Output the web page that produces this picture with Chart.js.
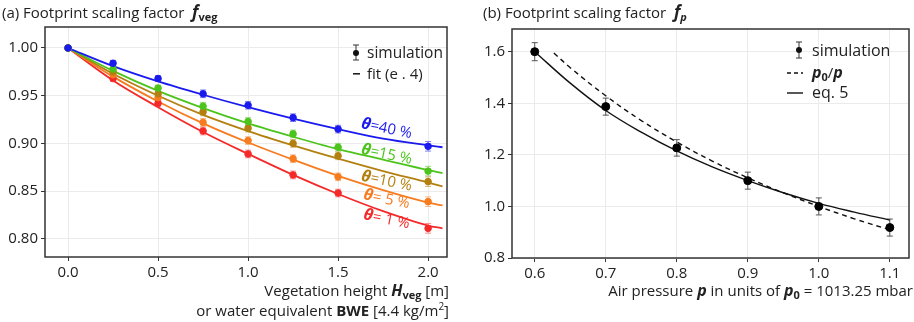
<!DOCTYPE html>
<html>
<head>
<meta charset="utf-8">
<title>Footprint scaling factors</title>
<script src="https://cdn.jsdelivr.net/npm/chart.js@4.4.0/dist/chart.umd.min.js"></script>
<style>
  body { margin: 0; background: #fff; }
  .panel { position: absolute; top: 0; height: 322px; }
  #left { left: 0; width: 455px; }
  #right { left: 455px; width: 459px; }
</style>
</head>
<body>
<div class="panel" id="left"><canvas id="vegChart"></canvas></div>
<div class="panel" id="right"><canvas id="presChart"></canvas></div>
<script>
// (a) vegetation height -> f_veg, one series per soil moisture theta
var heights = [0, 0.25, 0.5, 0.75, 1.0, 1.25, 1.5, 2.0];
var sim40 = [1.000, 0.984, 0.968, 0.952, 0.940, 0.927, 0.915, 0.897];
var sim15 = [1.000, 0.978, 0.958, 0.939, 0.923, 0.910, 0.896, 0.871];
var sim10 = [1.000, 0.975, 0.952, 0.933, 0.916, 0.900, 0.887, 0.860];
var sim5  = [1.000, 0.972, 0.948, 0.922, 0.903, 0.884, 0.865, 0.839];
var sim1  = [1.000, 0.968, 0.942, 0.913, 0.889, 0.867, 0.848, 0.811];
var vegErr = [0.001, 0.003, 0.003, 0.004, 0.004, 0.004, 0.004, 0.005];

var fitHeights = [0, 0.25, 0.5, 0.75, 1.0, 1.25, 1.5, 1.75, 2.0, 2.08];
var fit40 = [1.000, 0.981, 0.965, 0.951, 0.938, 0.926, 0.915, 0.905, 0.898, 0.896];
var fit15 = [1.000, 0.976, 0.955, 0.937, 0.921, 0.907, 0.894, 0.883, 0.872, 0.869];
var fit10 = [1.000, 0.973, 0.950, 0.930, 0.913, 0.898, 0.884, 0.871, 0.859, 0.855];
var fit5  = [1.000, 0.970, 0.944, 0.921, 0.901, 0.883, 0.866, 0.851, 0.838, 0.835];
var fit1  = [1.000, 0.966, 0.938, 0.912, 0.889, 0.867, 0.847, 0.829, 0.814, 0.811];

var thetaNames = ['=40 %', '=15 %', '=10 %', '= 5 %', '= 1 %'];
var vegTicksX = [0.0, 0.5, 1.0, 1.5, 2.0];
var vegTicksY = [0.80, 0.85, 0.90, 0.95, 1.00];

// (b) air pressure -> f_p
var pressures = [0.6, 0.7, 0.8, 0.9, 1.0, 1.1];
var simP = [1.600, 1.387, 1.227, 1.100, 1.000, 0.918];
var errP = [0.035, 0.033, 0.032, 0.033, 0.033, 0.033];
var ratioX = [0.627, 0.65, 0.7, 0.75, 0.8, 0.85, 0.9, 0.95, 1.0, 1.05, 1.1];
var ratioY = [1.595, 1.538, 1.429, 1.333, 1.250, 1.176, 1.111, 1.053, 1.000, 0.952, 0.909];
var eq5X = [0.6, 0.65, 0.7, 0.75, 0.8, 0.85, 0.9, 0.95, 1.0, 1.05, 1.1];
var eq5Y = [1.600, 1.478, 1.372, 1.288, 1.215, 1.153, 1.100, 1.053, 1.012, 0.978, 0.947];
var presTicksX = [0.6, 0.7, 0.8, 0.9, 1.0, 1.1];
var presTicksY = [0.8, 1.0, 1.2, 1.4, 1.6];

var FONT = "'Open Sans', 'Noto Sans', sans-serif";
var colors = ['#1a1aee', '#4cc41c', '#b3800f', '#f77b1f', '#f42a2a'];
var errColors = ['#7d7df3', '#9bdb7e', '#d3b47a', '#f9b483', '#f88a8a'];

function pts(xs, ys) {
  return xs.map(function (x, i) { return { x: x, y: ys[i] }; });
}

// draws a run of [text, font, dy] pieces, left/right/center aligned
function drawRich(ctx, parts, x, y, align) {
  var w = 0;
  parts.forEach(function (p) { ctx.font = p[1]; w += ctx.measureText(p[0]).width; });
  var cx = align === 'right' ? x - w : (align === 'center' ? x - w / 2 : x);
  parts.forEach(function (p) {
    ctx.font = p[1];
    ctx.fillText(p[0], cx, y + (p[2] || 0));
    cx += ctx.measureText(p[0]).width;
  });
}

function errorBar(ctx, x, yTop, yBot, cap, color) {
  ctx.strokeStyle = color;
  ctx.lineWidth = 1;
  ctx.beginPath();
  ctx.moveTo(x, yTop); ctx.lineTo(x, yBot);
  ctx.moveTo(x - cap, yTop); ctx.lineTo(x + cap, yTop);
  ctx.moveTo(x - cap, yBot); ctx.lineTo(x + cap, yBot);
  ctx.stroke();
}

// whiskers for datasets that carry an `errors` array
var errorBarsPlugin = {
  id: 'errorBars',
  beforeDatasetsDraw: function (chart) {
    var ctx = chart.ctx, ys = chart.scales.y, xs = chart.scales.x;
    ctx.save();
    chart.data.datasets.forEach(function (ds) {
      if (!ds.errors) return;
      ds.data.forEach(function (p, i) {
        var e = ds.errors[i];
        errorBar(ctx, xs.getPixelForValue(p.x), ys.getPixelForValue(p.y + e),
          ys.getPixelForValue(p.y - e), 3, ds.errColor);
      });
    });
    ctx.restore();
  }
};

// full panel frame plus the panel's own texts
var framePlugin = {
  id: 'frame',
  afterDraw: function (chart, args, opts) {
    var ctx = chart.ctx, a = chart.chartArea;
    ctx.save();
    ctx.strokeStyle = '#333';
    ctx.lineWidth = 1.5;
    ctx.strokeRect(a.left, a.top, a.right - a.left, a.bottom - a.top);
    ctx.fillStyle = '#222';
    ctx.textBaseline = 'alphabetic';
    if (opts.draw) opts.draw(chart, ctx, a);
    ctx.restore();
  }
};

Chart.register(errorBarsPlugin, framePlugin);

function fixedTicks(values) {
  return function (scale) { scale.ticks = values.map(function (v) { return { value: v }; }); };
}

function axis(min, max, ticks, digits, size) {
  return {
    type: 'linear', min: min, max: max,
    afterBuildTicks: fixedTicks(ticks),
    afterFit: function (s) { if (s.isHorizontal()) s.height = size; else s.width = size; },
    grid: { color: '#ebebeb', lineWidth: 1, tickColor: '#333', tickLength: 4 },
    border: { display: false },
    ticks: {
      padding: 3, color: '#222', font: { family: FONT, size: 15 },
      callback: function (v) { return Number(v).toFixed(digits); }
    }
  };
}

var R = '15px ' + FONT, B = 'bold 15px ' + FONT, BI = 'italic bold 16px ' + FONT;
var SUB = 'bold 11px ' + FONT;

// ---------- panel (a) ----------
var sims = [sim40, sim15, sim10, sim5, sim1];
var fits = [fit40, fit15, fit10, fit5, fit1];
var vegSets = [];
fits.forEach(function (f, i) {
  vegSets.push({
    type: 'line', data: pts(fitHeights, f), borderColor: colors[i], borderWidth: 1.8,
    pointRadius: 0, cubicInterpolationMode: 'monotone', order: 2
  });
});
sims.forEach(function (s, i) {
  vegSets.push({
    type: 'scatter', data: pts(heights, s), errors: vegErr, errColor: errColors[i],
    backgroundColor: colors[i], borderColor: colors[i], pointRadius: 3.3, order: 1
  });
});

// theta labels sit along each fit near H = 1.76
var thetaSpots = [[1.77, 0.916], [1.77, 0.889], [1.77, 0.861], [1.77, 0.842], [1.77, 0.821]];

new Chart(document.getElementById('vegChart'), {
  type: 'scatter',
  data: { datasets: vegSets },
  options: {
    responsive: true, maintainAspectRatio: false, animation: false,
    layout: { padding: { top: 27, right: 8, left: 0, bottom: 0 } },
    scales: {
      x: axis(-0.128, 2.105, vegTicksX, 1, 65),
      y: axis(0.781, 1.022, vegTicksY, 2, 45)
    },
    plugins: {
      legend: { display: false }, tooltip: { enabled: false },
      frame: {
        draw: function (chart, ctx, a) {
          var xs = chart.scales.x, ys = chart.scales.y;
          drawRich(ctx, [['(a) Footprint scaling factor  ', '15px ' + FONT], ['f', 'italic bold 17px ' + FONT], ['veg', SUB, 3]], 2, 18, 'left');
          // legend
          ctx.fillStyle = '#111';
          errorBar(ctx, 356, 45, 60, 3, '#333');
          ctx.beginPath(); ctx.arc(356, 53, 3, 0, Math.PI * 2); ctx.fill();
          ctx.fillStyle = '#222';
          drawRich(ctx, [['simulation', '15.5px ' + FONT]], 367, 58, 'left');
          ctx.fillRect(353, 73, 7, 1.6);
          drawRich(ctx, [['fit (e . 4)', '15px ' + FONT]], 367, 79, 'left');
          // axis title
          drawRich(ctx, [['Vegetation height ', R], ['H', BI], ['veg', SUB, 3], [' [m]', R]], 449, 296, 'right');
          drawRich(ctx, [['or water equivalent ', R], ['BWE', B], [' [4.4 kg/m', R], ['2', '10px ' + FONT, -6], [']', R]], 449, 316, 'right');
          // theta labels
          thetaSpots.forEach(function (s, i) {
            ctx.save();
            ctx.translate(xs.getPixelForValue(s[0]), ys.getPixelForValue(s[1]));
            ctx.rotate(0.2);
            ctx.fillStyle = colors[i];
            drawRich(ctx, [['\u03b8', 'italic bold 16px ' + FONT], [thetaNames[i], '15px ' + FONT]], 0, 5, 'center');
            ctx.restore();
          });
        }
      }
    }
  }
});

// ---------- panel (b) ----------
new Chart(document.getElementById('presChart'), {
  type: 'scatter',
  data: {
    datasets: [
      { type: 'line', data: pts(ratioX, ratioY), borderColor: '#111', borderWidth: 1.4,
        borderDash: [5, 4], pointRadius: 0, tension: 0.4, order: 3 },
      { type: 'line', data: pts(eq5X, eq5Y), borderColor: '#111', borderWidth: 1.4,
        pointRadius: 0, tension: 0.4, order: 2 },
      { type: 'scatter', data: pts(pressures, simP), errors: errP, errColor: '#555',
        backgroundColor: '#000', borderColor: '#000', pointRadius: 4, order: 1 }
    ]
  },
  options: {
    responsive: true, maintainAspectRatio: false, animation: false,
    layout: { padding: { top: 29, right: 1, left: 0, bottom: 0 } },
    scales: {
      x: axis(0.568, 1.127, presTicksX, 1, 64),
      y: axis(0.8, 1.688, presTicksY, 1, 57)
    },
    plugins: {
      legend: { display: false }, tooltip: { enabled: false },
      frame: {
        draw: function (chart, ctx, a) {
          drawRich(ctx, [['(b) Footprint scaling factor  ', '15px ' + FONT], ['f', 'italic bold 17px ' + FONT], ['p', 'italic bold 11px ' + FONT, 3]], 28, 18, 'left');
          // legend
          ctx.fillStyle = '#111';
          errorBar(ctx, 344, 42, 58, 3, '#333');
          ctx.beginPath(); ctx.arc(344, 50, 3, 0, Math.PI * 2); ctx.fill();
          ctx.fillStyle = '#222';
          drawRich(ctx, [['simulation', '16px ' + FONT]], 357, 56, 'left');
          ctx.strokeStyle = '#111'; ctx.lineWidth = 1.4;
          ctx.setLineDash([4, 3]);
          ctx.beginPath(); ctx.moveTo(332, 73); ctx.lineTo(348, 73); ctx.stroke();
          ctx.setLineDash([]);
          drawRich(ctx, [['p', 'italic bold 16px ' + FONT], ['0', 'bold 11px ' + FONT, 3], ['/', '15px ' + FONT], ['p', 'italic bold 16px ' + FONT]], 357, 78, 'left');
          ctx.beginPath(); ctx.moveTo(332, 93); ctx.lineTo(348, 93); ctx.stroke();
          drawRich(ctx, [['eq. 5', '16px ' + FONT]], 357, 98, 'left');
          // axis title
          drawRich(ctx, [['Air pressure ', R], ['p', BI], [' in units of ', R], ['p', BI], ['0', SUB, 3], [' = 1013.25 mbar', R]], 458, 296, 'right');
        }
      }
    }
  }
});
</script>
</body>
</html>
